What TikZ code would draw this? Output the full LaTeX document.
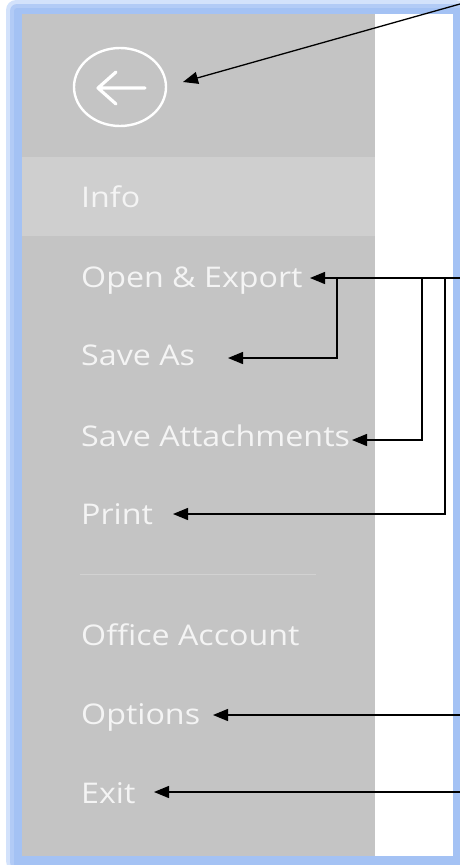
\documentclass[tikz,border=0pt]{standalone}
\usepackage{fontspec}
\setmainfont{Open Sans}
\usetikzlibrary{arrows.meta}
\definecolor{panel}{HTML}{C4C4C4}
\definecolor{infoband}{HTML}{CFCFCF}
\definecolor{glowblue}{HTML}{A4C2F4}
\definecolor{glowlight}{HTML}{D3E2FB}
\definecolor{menutext}{HTML}{F4F4F4}
\definecolor{sepline}{HTML}{D2D2D2}
\newcommand{\mitemtext}[1]{\scalebox{1.13}[1]{#1}}
\tikzset{
  menuitem/.style={anchor=base west, inner sep=0pt, text=menutext,
    font=\fontsize{28.5}{30}\selectfont},
  callout/.style={draw=black, line width=1.3pt,
    -{Triangle[length=15pt,width=12pt]}},
}
\begin{document}
\begin{tikzpicture}[x=1pt,y=-1pt]
\useasboundingbox (0,0) rectangle (460,865);
% frame glow
\fill[glowlight, rounded corners=10pt] (6,0) rectangle (466,871);
\fill[glowblue!70!glowlight, rounded corners=7pt] (10,4) rectangle (464,869);
\fill[glowblue, rounded corners=3pt] (14,8) rectangle (462,867);
% panels
\fill[panel] (22,14) rectangle (375,856);
\fill[white] (375,14) rectangle (453,856);
\fill[infoband] (22,157) rectangle (375,236);
% back button
\draw[white, line width=2.4pt] (120,87) ellipse [x radius=46, y radius=39];
\draw[white, line width=3.2pt, line cap=round, line join=round]
  (116,72) -- (98,88) -- (116,104) (98,88) -- (145,88);
% separator
\draw[sepline, line width=1pt] (80,574) -- (316,574);
% menu items
\node[menuitem] (info) at (81,207) {\mitemtext{Info}};
\node[menuitem] (open) at (81,287) {\mitemtext{Open \& Export}};
\node[menuitem] (saveas) at (81,365) {\mitemtext{Save As}};
\node[menuitem] (saveatt) at (81,446) {\mitemtext{Save Attachments}};
\node[menuitem] (print) at (81,524) {\mitemtext{Print}};
\node[menuitem] (account) at (81,645) {\mitemtext{Office Account}};
\node[menuitem] (options) at (81,724) {\mitemtext{Options}};
\node[menuitem] (exit) at (81,803) {\mitemtext{Exit}};
% connector points
\coordinate (src1) at (460,4);
\coordinate (tipBack) at (183,82);
\coordinate (src2) at (460,278);
\coordinate (tipOpen) at (310,278);
\coordinate (bA) at (337,278);
\coordinate (bB) at (422,278);
\coordinate (bC) at (445,278);
\coordinate (tipSaveAs) at (228,358);
\coordinate (tipSaveAtt) at (352,440);
\coordinate (tipPrint) at (173,514);
\coordinate (src3) at (460,715);
\coordinate (tipOptions) at (213,715);
\coordinate (src4) at (460,792);
\coordinate (tipExit) at (154,792);
% connectors
\draw[callout] (src1) -- (tipBack);
\draw[callout] (src2) -- (tipOpen);
\draw[callout] (bA) |- (tipSaveAs);
\draw[callout] (bB) |- (tipSaveAtt);
\draw[callout] (bC) |- (tipPrint);
\draw[callout] (src3) -- (tipOptions);
\draw[callout] (src4) -- (tipExit);
\end{tikzpicture}
\end{document}
